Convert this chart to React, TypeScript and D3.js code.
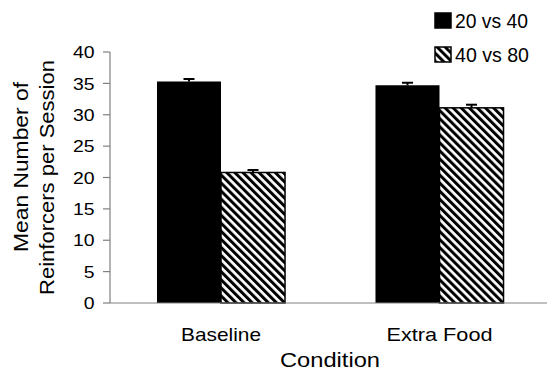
import * as d3 from 'd3';
import React, { useEffect, useRef } from 'react';

const conditions = ['Baseline', 'Extra Food'];
const seriesNames = ['20 vs 40', '40 vs 80'];
const means20vs40 = [35.3, 34.7];
const errors20vs40 = [0.4, 0.4];
const means40vs80 = [20.8, 31.1];
const errors40vs80 = [0.4, 0.5];
const yTicks = [0, 5, 10, 15, 20, 25, 30, 35, 40];

const W = 547;
const H = 377;
const FONT = '"Liberation Sans", Arial, sans-serif';

// label widths (the original font renders wide)
const catWidths = [80, 106];
const legendWidths = [73, 74];

const App = () => {
  const ref = useRef<SVGSVGElement>(null);

  useEffect(() => {
    const svg = d3.select(ref.current);
    svg.selectAll('*').remove();

    const data = conditions.map((c, i) => ({
      condition: c,
      values: [
        { key: seriesNames[0], mean: means20vs40[i], err: errors20vs40[i] },
        { key: seriesNames[1], mean: means40vs80[i], err: errors40vs80[i] },
      ],
    }));

    const x0 = d3
      .scaleBand()
      .domain(conditions)
      .range([111.75, 548.75])
      .paddingInner(0.414)
      .paddingOuter(0.207);
    const x1 = d3
      .scaleBand()
      .domain(seriesNames)
      .range([0, x0.bandwidth()]);
    const y = d3.scaleLinear().domain([0, 40]).range([303, 52]);

    const defs = svg.append('defs');
    defs
      .append('pattern')
      .attr('id', 'hatch')
      .attr('patternUnits', 'userSpaceOnUse')
      .attr('width', 5.7)
      .attr('height', 5.7)
      .attr('patternTransform', 'rotate(-45)')
      .call(p => {
        p.append('rect').attr('width', 5.7).attr('height', 5.7).attr('fill', '#fff');
        p.append('rect').attr('width', 3).attr('height', 5.7).attr('fill', '#000');
      });

    const fill = (key: string) => (key === seriesNames[0] ? '#000' : 'url(#hatch)');

    // bars
    const groups = svg
      .selectAll('.group')
      .data(data)
      .enter()
      .append('g')
      .attr('class', 'group')
      .attr('transform', d => 'translate(' + x0(d.condition) + ',0)');

    groups
      .selectAll('.bar')
      .data(d => d.values)
      .enter()
      .append('rect')
      .attr('class', 'bar')
      .attr('x', d => x1(d.key)!)
      .attr('y', d => y(d.mean))
      .attr('width', x1.bandwidth())
      .attr('height', d => y(0) - y(d.mean))
      .attr('fill', d => fill(d.key))
      .attr('stroke', '#000')
      .attr('stroke-width', d => (d.key === seriesNames[0] ? 0 : 1.5));

    // upper error bars
    const eb = groups
      .selectAll('.err')
      .data(d => d.values)
      .enter()
      .append('g')
      .attr('class', 'err')
      .attr('stroke', '#000')
      .attr('stroke-width', 2);
    eb.append('line')
      .attr('x1', d => x1(d.key)! + x1.bandwidth() / 2)
      .attr('x2', d => x1(d.key)! + x1.bandwidth() / 2)
      .attr('y1', d => y(d.mean))
      .attr('y2', d => y(d.mean + d.err));
    eb.append('line')
      .attr('x1', d => x1(d.key)! + x1.bandwidth() / 2 - 5.5)
      .attr('x2', d => x1(d.key)! + x1.bandwidth() / 2 + 5.5)
      .attr('y1', d => y(d.mean + d.err))
      .attr('y2', d => y(d.mean + d.err));

    // y axis
    const yAxis = svg.append('g');
    yAxis
      .append('line')
      .attr('x1', 110)
      .attr('x2', 110)
      .attr('y1', y(40))
      .attr('y2', y(0))
      .attr('stroke', '#808080')
      .attr('stroke-width', 1.2);
    const tick = yAxis
      .selectAll('.tick')
      .data(yTicks)
      .enter()
      .append('g')
      .attr('class', 'tick')
      .attr('transform', d => 'translate(0,' + y(d) + ')');
    tick
      .append('line')
      .attr('x1', 103)
      .attr('x2', 110)
      .attr('stroke', '#808080')
      .attr('stroke-width', 1.2);
    tick
      .append('text')
      .attr('x', 94.5)
      .attr('dy', '0.36em')
      .attr('text-anchor', 'end')
      .attr('font-family', FONT)
      .attr('font-size', 17)
      .attr('textLength', d => String(d).length * 10.8)
      .attr('lengthAdjust', 'spacingAndGlyphs')
      .text(d => d);

    // x axis
    svg
      .append('line')
      .attr('x1', 110)
      .attr('x2', W)
      .attr('y1', y(0))
      .attr('y2', y(0))
      .attr('stroke', '#808080')
      .attr('stroke-width', 1.2);

    svg
      .selectAll('.cat')
      .data(conditions)
      .enter()
      .append('text')
      .attr('class', 'cat')
      .attr('x', d => x0(d)! + x0.bandwidth() / 2)
      .attr('y', 341)
      .attr('text-anchor', 'middle')
      .attr('font-family', FONT)
      .attr('font-size', 19)
      .attr('textLength', (d, i) => catWidths[i])
      .attr('lengthAdjust', 'spacingAndGlyphs')
      .text(d => d);

    svg
      .append('text')
      .attr('x', 330)
      .attr('y', 367)
      .attr('text-anchor', 'middle')
      .attr('font-family', FONT)
      .attr('font-size', 20)
      .attr('textLength', 100)
      .attr('lengthAdjust', 'spacingAndGlyphs')
      .text('Condition');

    // y title, two lines
    const yTitle = [
      { text: 'Mean Number of', x: 28, cy: 167, len: 170 },
      { text: 'Reinforcers per Session', x: 54, cy: 177.5, len: 235 },
    ];
    svg
      .selectAll('.ytitle')
      .data(yTitle)
      .enter()
      .append('text')
      .attr('class', 'ytitle')
      .attr('transform', d => 'translate(' + d.x + ',' + d.cy + ') rotate(-90)')
      .attr('text-anchor', 'middle')
      .attr('font-family', FONT)
      .attr('font-size', 21)
      .attr('textLength', d => d.len)
      .attr('lengthAdjust', 'spacingAndGlyphs')
      .text(d => d.text);

    // legend
    const legend = svg
      .selectAll('.legend')
      .data(seriesNames)
      .enter()
      .append('g')
      .attr('class', 'legend')
      .attr('transform', (d, i) => 'translate(435,' + (13 + i * 34) + ')');
    legend
      .append('rect')
      .attr('width', 16)
      .attr('height', 15)
      .attr('fill', d => fill(d))
      .attr('stroke', '#000')
      .attr('stroke-width', 1.5);
    legend
      .append('text')
      .attr('x', 20)
      .attr('y', 15)
      .attr('font-family', FONT)
      .attr('font-size', 21)
      .attr('textLength', (d, i) => legendWidths[i])
      .attr('lengthAdjust', 'spacingAndGlyphs')
      .text(d => d);
  }, []);

  return (
    <svg
      ref={ref}
      width={W}
      height={H}
      style={{ position: 'absolute', left: 0, top: 0, background: '#fff' }}
    />
  );
};

export default App;
